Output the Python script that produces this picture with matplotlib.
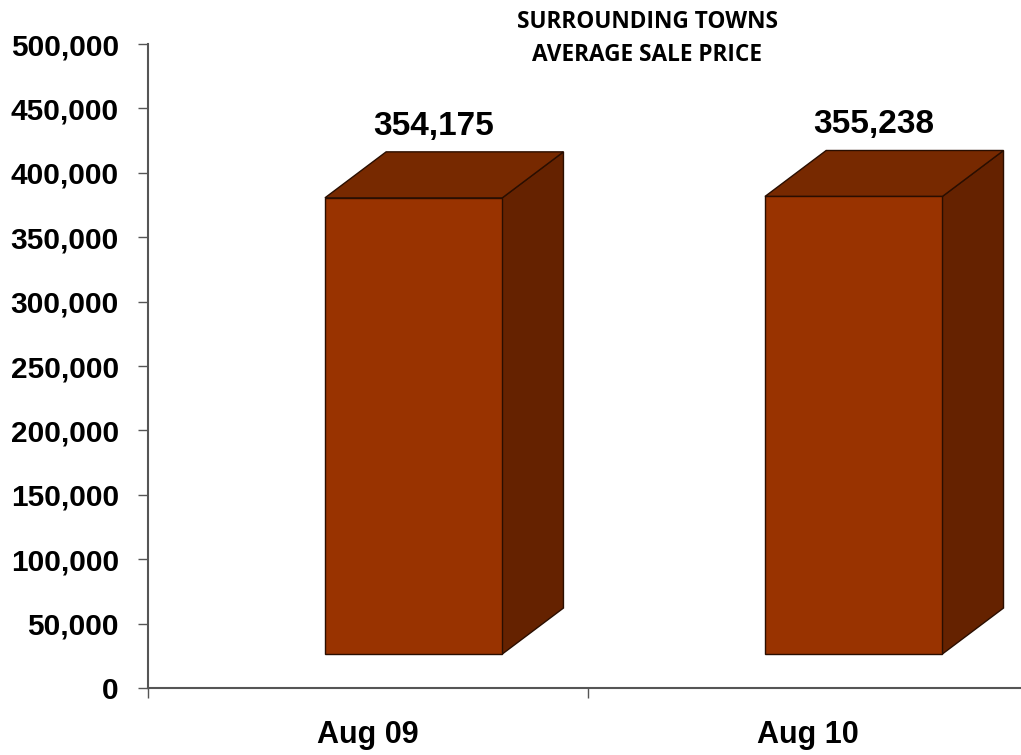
import matplotlib.pyplot as plt
from matplotlib.patches import Polygon
from matplotlib.ticker import FuncFormatter

categories = ["Aug 09", "Aug 10"]
values = [354175, 355238]
labels = ["354,175", "355,238"]
yticks = [0, 50000, 100000, 150000, 200000, 250000, 300000, 350000, 400000, 450000, 500000]

# fake 3d geometry (data units)
base = 26400
left_off, width = -0.098, 0.403
dx, dy = 0.139, 35700

front_c = "#993300"
top_c = "#772900"
side_c = "#652200"
edge_c = "#2a0e00"

fig = plt.figure(figsize=(10.21, 7.55), dpi=100)
ax = fig.add_axes([0.145, 0.0887, 0.862, 0.853])
ax.set_xlim(0, 2)
ax.set_ylim(0, 500000)

for i, v in enumerate(values):
    pos = i + 0.5
    x0 = pos + left_off
    x1 = x0 + width
    y0 = base
    y1 = base + v
    front = Polygon([(x0, y0), (x1, y0), (x1, y1), (x0, y1)], closed=True,
                    facecolor=front_c, edgecolor=edge_c, lw=1, clip_on=False)
    top = Polygon([(x0, y1), (x1, y1), (x1 + dx, y1 + dy), (x0 + dx, y1 + dy)], closed=True,
                  facecolor=top_c, edgecolor=edge_c, lw=1, clip_on=False)
    side = Polygon([(x1, y0), (x1 + dx, y0 + dy), (x1 + dx, y1 + dy), (x1, y1)], closed=True,
                   facecolor=side_c, edgecolor=edge_c, lw=1, clip_on=False)
    for p in (side, top, front):
        ax.add_patch(p)
    ax.text(pos + 0.15, y1 + dy + 20000, labels[i], ha="center", va="center",
            fontsize=24, fontweight="bold", family="Liberation Sans")

for s in ("top", "right"):
    ax.spines[s].set_visible(False)
for s in ("left", "bottom"):
    ax.spines[s].set_color("#555555")
    ax.spines[s].set_linewidth(1.5)

ax.set_yticks(yticks)
ax.yaxis.set_major_formatter(FuncFormatter(lambda v, p: "{:,.0f}".format(v)))
ax.tick_params(axis="y", length=7, width=1, color="#555555", pad=14)
ax.set_xticks([0, 1, 2])
ax.set_xticklabels([])
ax.set_xticks([0.5, 1.5], minor=True)
ax.set_xticklabels(categories, minor=True)
ax.tick_params(axis="x", which="major", length=7, width=1, color="#555555")
ax.tick_params(axis="x", which="minor", length=0, pad=23)
for t in ax.get_yticklabels():
    t.set_fontsize(21.5)
    t.set_fontweight("bold")
    t.set_family("Liberation Sans")
for t in ax.get_xticklabels(minor=True):
    t.set_fontsize(22)
    t.set_fontweight("bold")
    t.set_family("Liberation Sans")

fig.text(0.634, 0.949, "SURROUNDING TOWNS\nAVERAGE SALE PRICE", ha="center", va="center",
         fontsize=16.3, fontweight="bold", family="Open Sans", linespacing=1.45)

fig.savefig("out.png", dpi=100)
